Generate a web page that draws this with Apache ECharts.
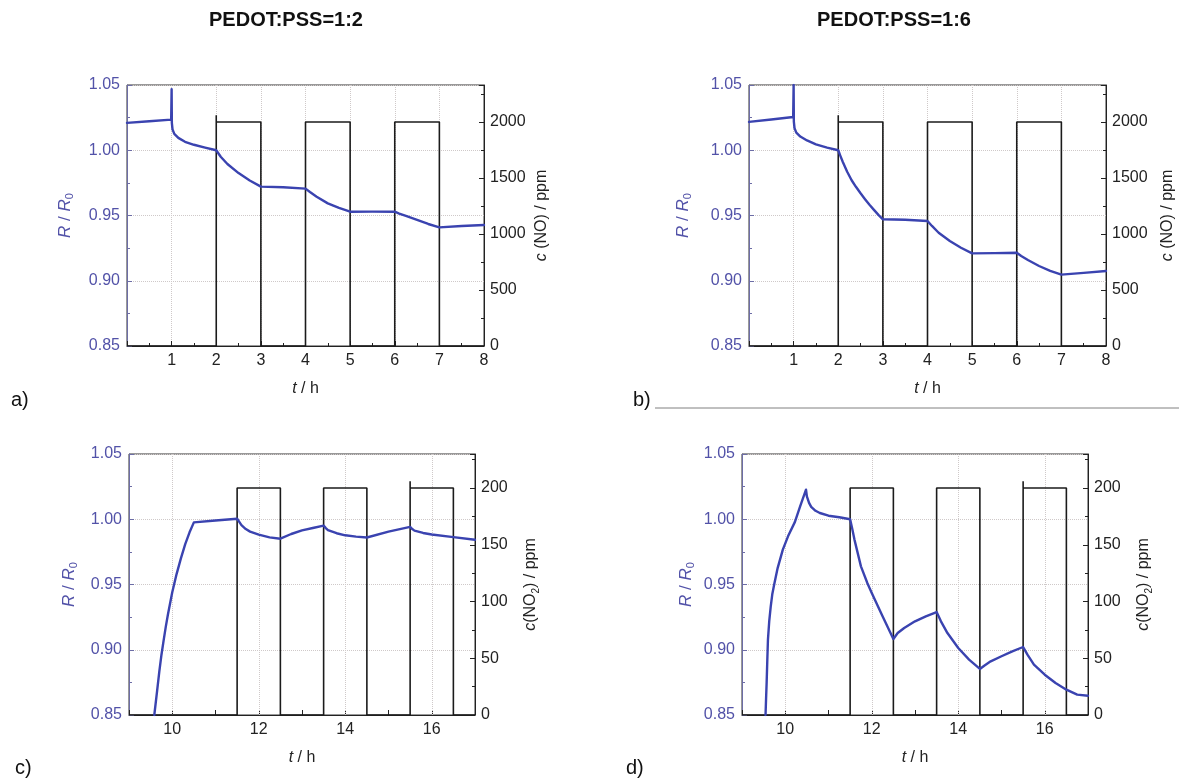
<!DOCTYPE html>
<html>
<head>
<meta charset="utf-8">
<script src="https://cdn.jsdelivr.net/npm/echarts@6/dist/echarts.min.js"></script>
<style>
html,body{margin:0;padding:0;background:#fff;}
#chart{width:1179px;height:782px;}
</style>
</head>
<body>
<div id="chart"></div>
<script>
// ---------- DATA ----------
// Panel a (PEDOT:PSS=1:2, NO)
const tA = [0, 0.5, 0.99, 1.0, 1.005, 1.02, 1.06, 1.15, 1.3, 1.5, 1.75, 2.0, 2.1, 2.25, 2.5, 2.75, 3.0, 3.5, 4.0, 4.1, 4.25, 4.5, 4.75, 5.0, 5.5, 6.0, 6.1, 6.25, 6.5, 6.75, 7.0, 7.5, 8.0];
const rA = [1.021, 1.0222, 1.0235, 1.0467, 1.021, 1.016, 1.0125, 1.0095, 1.0065, 1.0042, 1.002, 1.0, 0.995, 0.9895, 0.9825, 0.9768, 0.9721, 0.9716, 0.9706, 0.968, 0.9644, 0.9593, 0.9558, 0.9529, 0.953, 0.9529, 0.9515, 0.9497, 0.9466, 0.9435, 0.9409, 0.942, 0.9427];
// Panel b (PEDOT:PSS=1:6, NO)
const tB = [0, 0.5, 0.99, 1.0, 1.005, 1.02, 1.06, 1.15, 1.3, 1.5, 1.75, 2.0, 2.05, 2.1, 2.2, 2.3, 2.4, 2.5, 2.6, 2.7, 2.8, 2.9, 3.0, 3.5, 4.0, 4.1, 4.25, 4.5, 4.75, 5.0, 5.5, 6.0, 6.1, 6.25, 6.5, 6.75, 7.0, 7.5, 8.0];
const rB = [1.0217, 1.0236, 1.0255, 1.05, 1.022, 1.017, 1.0135, 1.0105, 1.0075, 1.0045, 1.002, 1.0, 0.9955, 0.9912, 0.9835, 0.977, 0.9718, 0.967, 0.9625, 0.9582, 0.9543, 0.9505, 0.9471, 0.9467, 0.9458, 0.942, 0.9368, 0.9305, 0.9253, 0.921, 0.9212, 0.9215, 0.919, 0.9159, 0.9113, 0.9075, 0.9047, 0.906, 0.9075];
// Panel c (PEDOT:PSS=1:2, NO2)
const tC = [9.585, 9.65, 9.7, 9.75, 9.8, 9.85, 9.9, 10.0, 10.1, 10.2, 10.3, 10.4, 10.5, 11.0, 11.5, 11.55, 11.6, 11.7, 11.8, 12.0, 12.25, 12.5, 12.75, 13.0, 13.25, 13.5, 13.55, 13.6, 13.8, 14.0, 14.25, 14.5, 15.0, 15.5, 15.55, 15.6, 15.8, 16.0, 16.5, 17.0];
const rC = [0.85, 0.8685, 0.883, 0.896, 0.907, 0.9175, 0.927, 0.944, 0.958, 0.970, 0.981, 0.990, 0.9976, 0.999, 1.0004, 0.998, 0.9955, 0.9925, 0.9905, 0.9882, 0.9861, 0.9851, 0.9887, 0.9915, 0.9933, 0.9951, 0.9932, 0.9917, 0.9893, 0.9877, 0.9867, 0.986, 0.9905, 0.9941, 0.9925, 0.9913, 0.9895, 0.9883, 0.9863, 0.9843];
// Panel d (PEDOT:PSS=1:6, NO2)
const tD = [9.544, 9.557, 9.57, 9.585, 9.6, 9.63, 9.664, 9.7, 9.744, 9.824, 9.944, 10.064, 10.224, 10.344, 10.48, 10.5, 10.55, 10.6, 10.7, 10.8, 11.0, 11.25, 11.5, 11.55, 11.6, 11.75, 11.9, 12.0, 12.25, 12.5, 12.6, 12.75, 13.0, 13.25, 13.5, 13.6, 13.75, 14.0, 14.25, 14.5, 14.6, 14.75, 15.0, 15.25, 15.5, 15.6, 15.75, 16.0, 16.25, 16.5, 16.75, 17.0];
const rD = [0.85, 0.863, 0.875, 0.892, 0.9077, 0.922, 0.933, 0.9425, 0.95, 0.9626, 0.9767, 0.9869, 0.998, 1.0099, 1.0227, 1.0175, 1.0125, 1.0095, 1.0065, 1.0048, 1.0027, 1.0015, 1.0, 0.9925, 0.9844, 0.9639, 0.951, 0.9435, 0.9256, 0.9082, 0.9128, 0.9167, 0.9218, 0.9256, 0.9289, 0.9218, 0.9128, 0.9013, 0.8924, 0.8853, 0.8878, 0.8911, 0.895, 0.8988, 0.9021, 0.8962, 0.8886, 0.8809, 0.8745, 0.8694, 0.8656, 0.8648];
// Gas concentration (square pulses)
const sqT_NO  = [0, 2, 2, 2, 3, 3, 4, 4, 5, 5, 6, 6, 7, 7, 8];
const sqC_NO  = [0, 0, 2060, 2000, 2000, 0, 0, 2000, 2000, 0, 0, 2000, 2000, 0, 0];
const sqT_NO2 = [9, 11.5, 11.5, 12.5, 12.5, 13.5, 13.5, 14.5, 14.5, 15.5, 15.5, 15.5, 16.5, 16.5, 17];
const sqC_NO2 = [0, 0, 200, 200, 0, 0, 200, 200, 0, 0, 206, 200, 200, 0, 0];
// Axis ranges / ticks
const xRangeNO = [0, 8];
const xRangeNO2 = [9, 17];
const rRange = [0.85, 1.05];
const cRangeNO = [0, 2330];
const cRangeNO2 = [0, 230];
const vGridNO2 = [10, 12, 14, 16];
const titles = ['PEDOT:PSS=1:2', 'PEDOT:PSS=1:6'];
const panelLabels = ['a)', 'b)', 'c)', 'd)'];

// ---------- STYLE ----------
const FONT = 'Liberation Sans, Arial, sans-serif';
const BLUE = '#3a43b0';
const AXBLUE = '#5252a8';
const DARK = '#222222';
const GRIDC = '#cfc9c9';

const zip = (a, b) => a.map((v, i) => [v, b[i]]);

const panels = [
  {grid: {left: 127, top: 85, width: 357, height: 261}, t: tA, r: rA, sqT: sqT_NO, sqC: sqC_NO, gas: 'NO', lGap: 52, rGap: 48},
  {grid: {left: 749, top: 85, width: 357, height: 261}, t: tB, r: rB, sqT: sqT_NO, sqC: sqC_NO, gas: 'NO', lGap: 56, rGap: 52},
  {grid: {left: 129, top: 454, width: 346, height: 261}, t: tC, r: rC, sqT: sqT_NO2, sqC: sqC_NO2, gas: 'NO2', lGap: 50, rGap: 46},
  {grid: {left: 742, top: 454, width: 346, height: 261}, t: tD, r: rD, sqT: sqT_NO2, sqC: sqC_NO2, gas: 'NO2', lGap: 46, rGap: 46}
];

const grids = [], xAxes = [], yAxes = [], series = [];

const richBase = (color, size) => ({
  i: {fontStyle: 'italic', color: color, fontSize: size, fontFamily: FONT, lineHeight: 20},
  n: {color: color, fontSize: size, fontFamily: FONT, lineHeight: 20},
  s: {color: color, fontSize: Math.round(size * 0.65), fontFamily: FONT, verticalAlign: 'bottom', lineHeight: 20}
});

panels.forEach((p, k) => {
  const isNO = p.gas === 'NO';
  grids.push(Object.assign({show: true, borderColor: '#333', borderWidth: 1, backgroundColor: 'transparent', containLabel: false, outerBoundsMode: 'none'}, p.grid));
  const xr = isNO ? xRangeNO : xRangeNO2;
  xAxes.push({
    type: 'value', gridIndex: k, min: xr[0], max: xr[1], interval: 1,
    axisLine: {show: true, lineStyle: {color: DARK, width: 1}},
    axisTick: {show: true, inside: true, length: 5, lineStyle: {color: DARK}},
    minorTick: {show: isNO, splitNumber: 2, length: 3, lineStyle: {color: DARK}},
    axisLabel: {show: true, color: DARK, fontSize: 16, fontFamily: FONT, margin: 7, showMinLabel: true, showMaxLabel: true,
      formatter: v => isNO ? (v === 0 ? '' : String(v)) : (Math.round(v) % 2 === 0 ? String(v) : '')},
    splitLine: {show: isNO, lineStyle: {type: 'dotted', color: GRIDC, width: 1}},
    name: '{i|t}{n| / h}', nameLocation: 'middle', nameGap: 33,
    nameTextStyle: {color: DARK, fontSize: 16, fontFamily: FONT, rich: richBase(DARK, 16)}
  });
  yAxes.push({
    type: 'value', gridIndex: k, position: 'left', min: rRange[0], max: rRange[1], interval: 0.05,
    axisLine: {show: true, lineStyle: {color: '#6d6da6', width: 1}},
    axisTick: {show: true, inside: true, length: 5, lineStyle: {color: '#6d6da6'}},
    minorTick: {show: true, splitNumber: 2, length: 3, lineStyle: {color: '#6d6da6'}},
    axisLabel: {color: AXBLUE, fontSize: 16, fontFamily: FONT, margin: 7, showMinLabel: true, showMaxLabel: true,
      formatter: v => v.toFixed(2)},
    splitLine: {show: true, lineStyle: {type: 'dotted', color: GRIDC, width: 1}},
    name: '{i|R}{n| / }{i|R}{s|0}', nameLocation: 'middle', nameGap: p.lGap,
    nameTextStyle: {color: AXBLUE, fontSize: 17, fontFamily: FONT, rich: richBase(AXBLUE, 17)}
  });
  const cr = isNO ? cRangeNO : cRangeNO2;
  const step = isNO ? 500 : 50;
  yAxes.push({
    type: 'value', gridIndex: k, position: 'right', min: cr[0], max: cr[1], interval: step,
    axisLine: {show: true, lineStyle: {color: DARK, width: 1}},
    axisTick: {show: true, inside: true, length: 5, lineStyle: {color: DARK}},
    minorTick: {show: true, splitNumber: 2, length: 3, lineStyle: {color: DARK}},
    axisLabel: {color: DARK, fontSize: 16, fontFamily: FONT, margin: 6, showMinLabel: true, showMaxLabel: true,
      formatter: v => (Math.abs(v % step) < 1e-6 ? String(v) : '')},
    splitLine: {show: false},
    name: isNO ? '{i|c}{n| (NO) / ppm}' : '{i|c}{n|(NO}{s|2}{n|) / ppm}',
    nameLocation: 'middle', nameGap: p.rGap,
    nameTextStyle: {color: DARK, fontSize: 16, fontFamily: FONT, rich: richBase(DARK, 16)}
  });
  const sq = {
    type: 'line', xAxisIndex: k, yAxisIndex: 2 * k + 1, data: zip(p.sqT, p.sqC),
    showSymbol: false, symbol: 'none', lineStyle: {color: '#1b1b1b', width: 1.6}, z: 3, silent: true
  };
  if (!isNO) {
    sq.markLine = {
      silent: true, symbol: ['none', 'none'], label: {show: false},
      lineStyle: {type: 'dotted', color: GRIDC, width: 1}, z: 1,
      data: vGridNO2.map(v => ({xAxis: v}))
    };
  }
  series.push(sq);
  series.push({
    type: 'line', xAxisIndex: k, yAxisIndex: 2 * k, data: zip(p.t, p.r),
    showSymbol: false, symbol: 'none', smooth: false,
    lineStyle: {color: BLUE, width: 2.4, join: 'round', cap: 'round'}, z: 4, clip: true, silent: true
  });
});

const graphics = [
  {type: 'text', x: 286, y: 20, style: {text: titles[0], font: 'bold 20px ' + FONT, fill: '#111', textAlign: 'center', textVerticalAlign: 'middle', verticalAlign: 'middle'}},
  {type: 'text', x: 894, y: 20, style: {text: titles[1], font: 'bold 20px ' + FONT, fill: '#111', textAlign: 'center', textVerticalAlign: 'middle', verticalAlign: 'middle'}},
  {type: 'text', x: 11, y: 400, style: {text: panelLabels[0], font: '20px ' + FONT, fill: '#111', textAlign: 'left', textVerticalAlign: 'middle', verticalAlign: 'middle'}},
  {type: 'text', x: 633, y: 400, style: {text: panelLabels[1], font: '20px ' + FONT, fill: '#111', textAlign: 'left', textVerticalAlign: 'middle', verticalAlign: 'middle'}},
  {type: 'text', x: 15, y: 768, style: {text: panelLabels[2], font: '20px ' + FONT, fill: '#111', textAlign: 'left', textVerticalAlign: 'middle', verticalAlign: 'middle'}},
  {type: 'text', x: 626, y: 768, style: {text: panelLabels[3], font: '20px ' + FONT, fill: '#111', textAlign: 'left', textVerticalAlign: 'middle', verticalAlign: 'middle'}},
  {type: 'line', shape: {x1: 655, y1: 408, x2: 1179, y2: 408}, style: {stroke: '#808080', lineWidth: 1}}
];

const chart = echarts.init(document.getElementById('chart'), null, {renderer: 'canvas'});
chart.setOption({
  animation: false,
  backgroundColor: '#ffffff',
  grid: grids,
  xAxis: xAxes,
  yAxis: yAxes,
  series: series,
  graphic: graphics
});
</script>
</body>
</html>
